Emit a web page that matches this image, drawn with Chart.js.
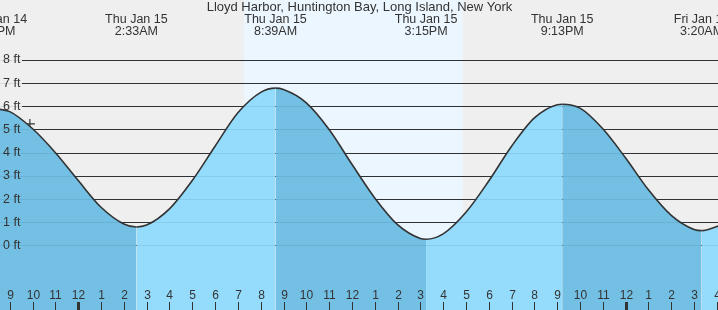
<!DOCTYPE html>
<html><head><meta charset="utf-8">
<script src="https://cdn.jsdelivr.net/npm/chart.js@4.4.0/dist/chart.umd.min.js"></script>
<style>html,body{margin:0;padding:0;background:#efefef;overflow:hidden}#wrap{width:718px;height:310px;position:relative}</style>
</head><body><div id="wrap"><canvas id="c" width="718" height="310"></canvas></div>
<script>
const chartTitle = 'Lloyd Harbor, Huntington Bay, Long Island, New York';
// hours since Thu Jan 15 00:00, tide height in ft
const hours   = [-3.7,-3,-2,-1,0,1,2,2.55,3,4,5,6,7,8,8.65,9,10,11,12,13,14,15,15.25,16,17,18,19,20,21,21.22,22,23,24,25,26,27,27.33,28,28.1];
const heights = [5.9,5.77,5.03,4.0,2.8,1.65,0.93,0.80,0.88,1.58,2.8,4.28,5.72,6.6,6.78,6.72,6.15,5.0,3.5,2.05,0.9,0.3,0.27,0.5,1.43,2.78,4.28,5.5,6.07,6.09,5.92,5.03,3.77,2.4,1.3,0.69,0.64,0.82,0.86];
const extremeHours = [-3.7,2.55,8.65,15.25,21.22,27.33];
const extremeDays  = ['Wed Jan 14','Thu Jan 15','Thu Jan 15','Thu Jan 15','Thu Jan 15','Fri Jan 16'];
const extremeTimes = ['8:18PM','2:33AM','8:39AM','3:15PM','9:13PM','3:20AM'];
const ftTicks  = [0,1,2,3,4,5,6,7,8];
const ftLabels = ['0 ft','1 ft','2 ft','3 ft','4 ft','5 ft','6 ft','7 ft','8 ft'];
const hourTicks  = [-3,-2,-1,0,1,2,3,4,5,6,7,8,9,10,11,12,13,14,15,16,17,18,19,20,21,22,23,24,25,26,27,28];
const hourLabels = ['9','10','11','12','1','2','3','4','5','6','7','8','9','10','11','12','1','2','3','4','5','6','7','8','9','10','11','12','1','2','3','4'];
const midnightHours = [0,24];
const daylight = [7.27,16.87];
const nowHour = [-2.12];
const nowHeight = [5.24];

const FAM = '"Liberation Sans", Arial, sans-serif';
const TXT = '#333';
const LIGHT = '#95dcfc', DARK = '#73c0e4';

const decor = {
  id: 'decor',
  beforeDatasetsDraw(chart) {
    const {ctx, scales: {x, y}} = chart;
    ctx.save();
    ctx.fillStyle = '#efefef';
    ctx.fillRect(0, 0, chart.width, chart.height);
    const x0 = x.getPixelForValue(daylight[0]), x1 = x.getPixelForValue(daylight[1]);
    ctx.fillStyle = '#ecf6fe';
    ctx.fillRect(Math.round(x0), 0, Math.round(x1) - Math.round(x0), chart.height);
    ctx.strokeStyle = '#333';
    ctx.lineWidth = 1;
    ftTicks.forEach(v => {
      const py = Math.round(y.getPixelForValue(v)) + 0.5;
      ctx.beginPath(); ctx.moveTo(22, py); ctx.lineTo(chart.width, py); ctx.stroke();
    });
    ctx.restore();
  },
  afterDatasetsDraw(chart) {
    const {ctx, scales: {x, y}} = chart;
    ctx.save();
    ctx.strokeStyle = 'rgba(0,40,80,0.09)';
    ctx.lineWidth = 1;
    ftTicks.forEach(v => {
      const py = Math.round(y.getPixelForValue(v)) + 0.5;
      ctx.beginPath(); ctx.moveTo(0, py); ctx.lineTo(chart.width, py); ctx.stroke();
    });
    ctx.restore();
  },
  afterDraw(chart) {
    const {ctx, scales: {x, y}} = chart;
    ctx.save();
    ctx.fillStyle = TXT;
    ctx.textBaseline = 'middle';
    // y labels
    ctx.font = '12.5px ' + FAM;
    ctx.textAlign = 'left';
    ftTicks.forEach((v, i) => ctx.fillText(ftLabels[i], 3, y.getPixelForValue(v)));
    // title
    ctx.textAlign = 'center';
    ctx.font = '13px ' + FAM;
    ctx.fillText(chartTitle, 359.5, 7);
    // tide extreme labels
    ctx.font = '12.5px ' + FAM;
    extremeHours.forEach((h, i) => {
      const px = x.getPixelForValue(h);
      ctx.fillText(extremeDays[i], px, 20);
      ctx.fillText(extremeTimes[i], px, 32);
    });
    // hour ticks
    ctx.font = '12px ' + FAM;
    hourTicks.forEach((h, i) => {
      const px = Math.round(x.getPixelForValue(h));
      const thick = midnightHours.includes(h);
      ctx.fillStyle = TXT;
      ctx.fillText(hourLabels[i], px + 0.5, 296);
      ctx.fillStyle = '#333';
      if (thick) ctx.fillRect(px - 1, 302, 3, 8); else ctx.fillRect(px, 302, 1, 8);
    });
    ctx.restore();
  }
};

new Chart(document.getElementById('c'), {
  type: 'line',
  data: {
    datasets: [{
      data: hours.map((h, i) => ({x: h, y: heights[i]})),
      fill: 'start',
      backgroundColor: DARK,
      borderColor: '#333',
      borderWidth: 1.6,
      pointRadius: 0,
      cubicInterpolationMode: 'monotone',
      segment: {
        backgroundColor: c => c.p1.parsed.y > c.p0.parsed.y ? LIGHT : DARK
      }
    }, {
      data: nowHour.map((h, i) => ({x: h, y: nowHeight[i]})),
      showLine: false,
      pointStyle: 'cross',
      pointRadius: 5,
      borderColor: '#333',
      borderWidth: 1.2,
      fill: false
    }]
  },
  options: {
    responsive: false,
    animation: false,
    devicePixelRatio: 1,
    layout: {padding: 0, autoPadding: false},
    plugins: {legend: {display: false}, tooltip: {enabled: false}, title: {display: false}},
    scales: {
      x: {type: 'linear', min: -3.43, max: 28.05, display: false},
      y: {type: 'linear', min: -2.78, max: 10.58, display: false}
    }
  },
  plugins: [decor]
});
</script></body></html>
